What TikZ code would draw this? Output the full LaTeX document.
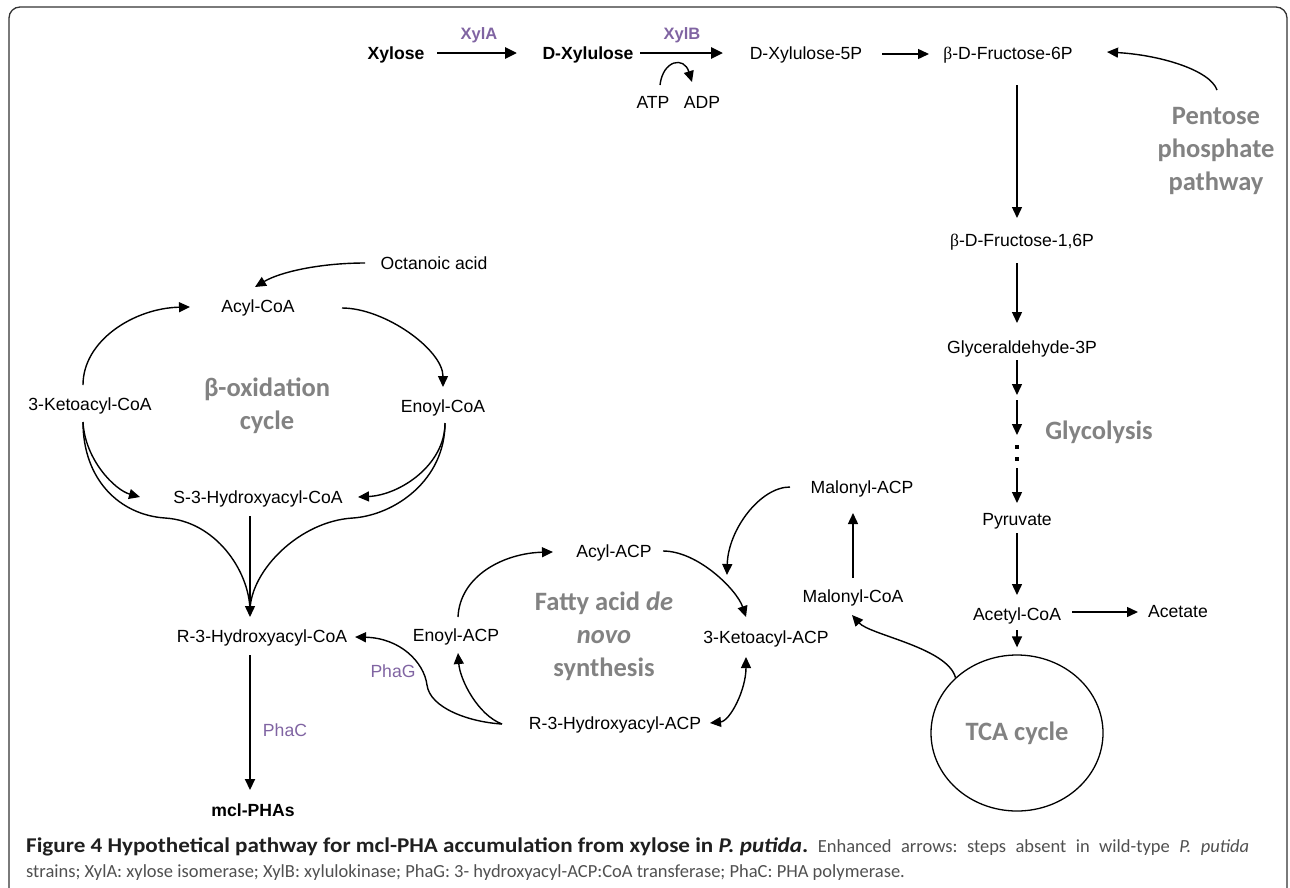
\documentclass[tikz,border=0pt]{standalone}
\usepackage{fontspec}
\setmainfont{Liberation Sans}
\newfontfamily\lblfont{Carlito}
\newfontfamily\symfont{Liberation Serif}
\usetikzlibrary{arrows.meta,calc,shapes.geometric}
\definecolor{enzpurple}{HTML}{8064A2}
\definecolor{lblgray}{HTML}{828282}
\definecolor{capgray}{HTML}{505050}
\definecolor{framecol}{HTML}{333333}
\tikzset{
  met/.style={font=\fontsize{17.6}{21}\selectfont, inner sep=0pt, text height=12.6pt, text depth=0pt},
  metb/.style={met, font=\fontsize{17.6}{21}\selectfont\bfseries},
  enz/.style={met, text=enzpurple},
  enzb/.style={met, text=enzpurple, font=\fontsize{16.5}{20}\selectfont\bfseries},
  lbl/.style={font=\lblfont\bfseries\fontsize{26.5}{33}\selectfont, text=lblgray, align=center, inner sep=0pt},
  rxn/.style={line width=1.4pt, -{Triangle[length=11pt,width=10pt]}},
  rxnboth/.style={line width=1.4pt, {Triangle[length=11pt,width=10pt]}-{Triangle[length=11pt,width=10pt]}},
  rxnx/.style={line width=2.8pt, -{Triangle[length=12pt,width=11pt]}},
  capline/.style={anchor=base west, inner sep=0pt, font=\lblfont\fontsize{18.5}{22}\selectfont\frenchspacing, text=capgray}
}
\begin{document}
\begin{tikzpicture}[x=1pt,y=1pt]
\useasboundingbox (0,0) rectangle (1290,-887);
\clip (0,0) rectangle (1290,-887);
\draw[framecol, line width=1.3pt, rounded corners=11pt] (9,-7) rectangle (1287,-940);

% xylose to glycolysis
\node[metb] (xyl) at (396,-53) {Xylose};
\node[metb] (dxyl) at (588,-53) {D-Xylulose};
\node[met] (dx5p) at (806,-53) {D-Xylulose-5P};
\node[met] (f6p) at (1008,-53) {{\symfont β}-D-Fructose-6P};
\node[enzb] (xyla) at (479,-33) {XylA};
\node[enzb] (xylb) at (682,-33) {XylB};
\node[met] (atp) at (653,-102) {ATP};
\node[met] (adp) at (702,-102) {ADP};
\node[lbl] (ppp) at (1216,-151) {Pentose\\phosphate\\pathway};
\node[met] (f16p) at (1022,-240) {{\symfont β}-D-Fructose-1,6P};
\node[met] (g3p) at (1022,-347) {Glyceraldehyde-3P};
\node[lbl] (glyc) at (1099,-432) {Glycolysis};
\node[met] (pyr) at (1017,-519) {Pyruvate};
\node[met] (acoa) at (1017,-614) {Acetyl-CoA};
\node[met] (acet) at (1178,-611) {Acetate};
\node[lbl, draw=black, line width=1.3pt, ellipse, minimum width=172pt, minimum height=156pt] (tca) at (1017,-733) {TCA cycle};
\coordinate (gl1) at (1017,-395);
\coordinate (gl2) at (1017,-400);
\coordinate (gl3) at (1017,-435);
\coordinate (gl4) at (1017,-468);

\draw[rxnx] ($(xyl)+(41,0)$) -- ($(dxyl)+(-71,0)$);
\draw[rxnx] ($(dxyl)+(52,0)$) -- ($(dx5p)+(-83,0)$);
\draw[rxn] ($(dx5p)+(76,-1)$) -- ($(f6p)+(-79,-1)$);
\draw[rxn] ($(atp)+(7,17)$) .. controls +(3,25) and +(-8,26) .. ($(adp)+(-10,20)$);
\draw[rxn] ($(ppp)+(1,61)$) .. controls +(-7,20) and +(53,-3) .. ($(f6p)+(99,1)$);
\draw[rxn] ($(f6p)+(9,-32)$) -- ($(f16p)+(-5,22)$);
\draw[rxn] ($(f16p)+(-5,-23)$) -- ($(g3p)+(-5,24)$);
\draw[rxn] ($(g3p)+(-5,-13)$) -- (gl1);
\draw[rxn] (gl2) -- (gl3);
\fill (1015,-445) rectangle (1019,-449);
\fill (1015,-457) rectangle (1019,-461);
\draw[rxn] (gl4) -- ($(pyr)+(0,16)$);
\draw[rxn] ($(pyr)+(0,-14)$) -- ($(acoa)+(0,19)$);
\draw[rxn] ($(acoa)+(55,2)$) -- ($(acet)+(-40,-1)$);
\draw[rxn] ($(acoa)+(0,-16)$) -- ([yshift=7pt]tca.north);

% malonyl and fatty acid synthesis
\node[met] (macoa) at (853,-596) {Malonyl-CoA};
\node[met] (maacp) at (862,-487) {Malonyl-ACP};
\node[met] (acylacp) at (614,-551) {Acyl-ACP};
\node[met] (kacp) at (766,-637) {3-Ketoacyl-ACP};
\node[met] (hacp) at (615,-723) {R-3-Hydroxyacyl-ACP};
\node[met] (eacp) at (456,-635) {Enoyl-ACP};
\node[lbl] (fas) at (604,-636) {Fatty acid \textit{de}\\\textit{novo}\\synthesis};

\draw[rxn] (tca.138) .. controls +(-8,30) and +(18,-20) .. ($(macoa)+(-1,-19)$);
\draw[rxn] ($(macoa)+(0,18)$) -- ($(maacp)+(-9,-26)$);
\draw[rxn] ($(maacp)+(-72,0)$) .. controls +(-30,0) and +(1,45) .. ($(kacp)+(-39,62)$);
\draw[rxn] ($(acylacp)+(49,0)$) .. controls +(35,0) and +(-9,27) .. ($(kacp)+(-20,20)$);
\draw[rxnboth] ($(kacp)+(-20,-20)$) .. controls +(0,-33) and +(20,2) .. ($(hacp)+(95,0)$);
\draw[rxn] ($(hacp)+(-113,-1)$) .. controls +(-24,9) and +(2,-27) .. ($(eacp)+(2,-18)$);
\draw[rxn] ($(eacp)+(2,18)$) .. controls +(2,42) and +(-48,-1) .. ($(acylacp)+(-61,-1)$);

% beta-oxidation and PHA
\node[met] (octa) at (434,-263) {Octanoic acid};
\node[met] (acylcoa) at (258,-306) {Acyl-CoA};
\node[met] (ecoa) at (443,-406) {Enoyl-CoA};
\node[met] (kcoa) at (90,-404) {3-Ketoacyl-CoA};
\node[met] (shcoa) at (258,-497) {S-3-Hydroxyacyl-CoA};
\node[met] (hcoa) at (262,-636) {R-3-Hydroxyacyl-CoA};
\node[metb] (pha) at (253,-810) {mcl-PHAs};
\node[lbl] (box) at (267,-406) {β-oxidation\\cycle};
\node[enz] (phag) at (393,-671) {PhaG};
\node[enz] (phac) at (285,-730) {PhaC};

\draw[rxn] ($(octa)+(-69,0)$) .. controls +(-45,0) and +(25,15) .. ($(acylcoa)+(-3,19)$);
\draw[rxn] ($(acylcoa)+(84,-2)$) .. controls +(43,0) and +(0,37) .. ($(ecoa)+(0,19)$);
\draw[rxn] ($(kcoa)+(-7,19)$) .. controls +(0,45) and +(-55,-1) .. ($(acylcoa)+(-68,-1)$);
\draw[rxn] ($(kcoa)+(-7,-18)$) .. controls +(2,-38) and +(-25,7) .. ($(shcoa)+(-118,0)$);
\draw[rxn] ($(ecoa)+(2,-17)$) .. controls +(0,-42) and +(42,2) .. ($(shcoa)+(100,0)$);
\draw[line width=1.4pt] ($(kcoa)+(-7,-18)$) .. controls +(0,-58) and (120,-515) .. (165,-518)
  .. controls (215,-521) and +(-1,40) .. ($(hcoa)+(-12,26)$);
\draw[line width=1.4pt] ($(ecoa)+(2,-17)$) .. controls +(0,-57) and (395,-515) .. (353,-518)
  .. controls (300,-521) and +(1,40) .. ($(hcoa)+(-12,26)$);
\draw[rxn] ($(shcoa)+(-8,-19)$) -- ($(hcoa)+(-12,19)$);
\draw[rxn] ($(hacp)+(-113,-1)$) .. controls +(-33,2) and (430,-708) .. (427,-685)
  .. controls (424,-662) and +(45,-1) .. ($(hcoa)+(93,-1)$);
\draw[rxn, line width=2pt] ($(hcoa)+(-12,-19)$) -- ($(pha)+(-3,20)$);

% caption
\node[capline] (cap1) at (26,-852) {\makebox[1223pt][s]{\scalebox{1.1}[1]{\fontsize{21}{23}\selectfont\bfseries\color{black!88}Figure 4 Hypothetical pathway for mcl-PHA accumulation from xylose in \textit{P. putida}.} Enhanced arrows: steps absent in wild-type \textit{P. putida}}};
\node[capline] (cap2) at (26,-877) {strains; XylA: xylose isomerase; XylB: xylulokinase; PhaG: 3- hydroxyacyl-ACP:CoA transferase; PhaC: PHA polymerase.};
\end{tikzpicture}
\end{document}
